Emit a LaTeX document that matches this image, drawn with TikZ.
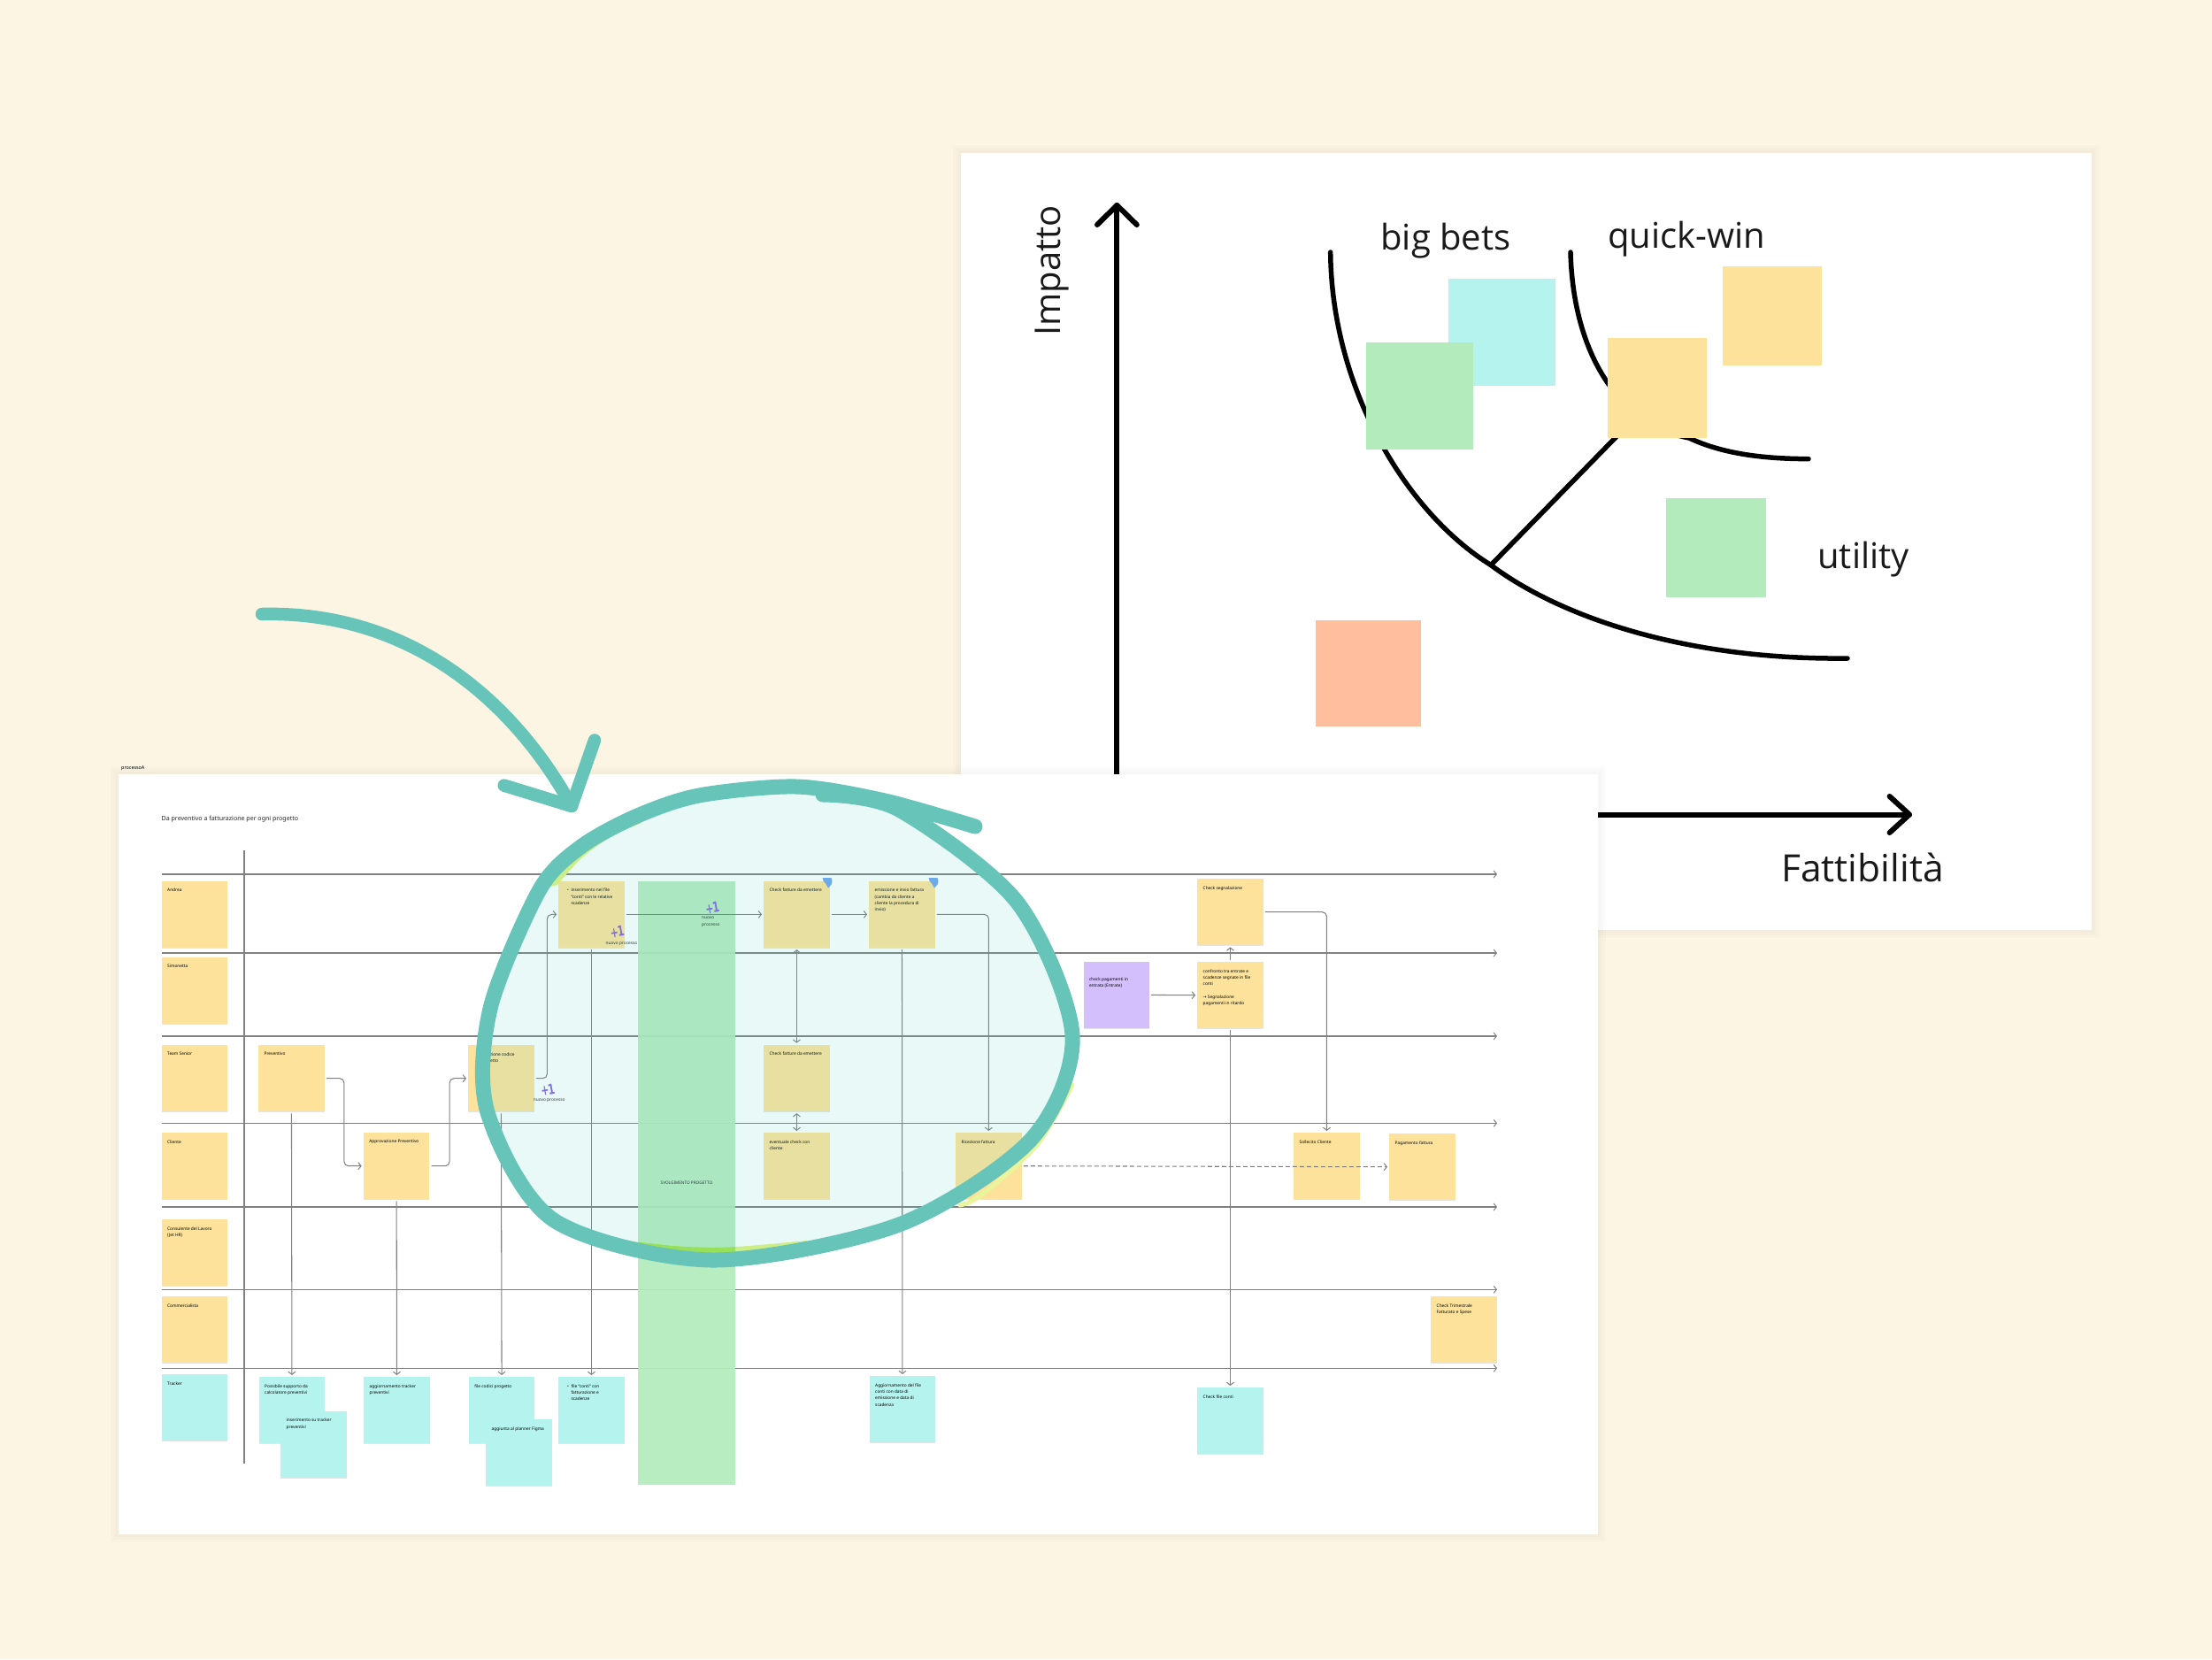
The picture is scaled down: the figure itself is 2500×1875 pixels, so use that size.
\documentclass[tikz,border=0pt]{standalone}
\usepackage{fontspec}
\setmainfont{Noto Sans}
\newfontfamily\chartfont{Open Sans}
\newfontfamily\symfont{DejaVu Sans}
\usetikzlibrary{arrows.meta,shadows}
\definecolor{bgc}{HTML}{FCF5E3}
\definecolor{yel}{HTML}{FDE29B}
\definecolor{cya}{HTML}{B5F4EE}
\definecolor{grn}{HTML}{B3EBBD}
\definecolor{org}{HTML}{FFBE9D}
\definecolor{pur}{HTML}{D2BFFB}
\definecolor{teal1}{HTML}{66C5B8}
\definecolor{tint}{HTML}{50D2CD}
\definecolor{lin}{HTML}{808080}
\definecolor{stic}{HTML}{8A63E0}
\definecolor{flagc}{HTML}{6FA6F0}
\definecolor{limea}{HTML}{DFF27A}
\definecolor{limeb}{HTML}{A3E24A}
\definecolor{limec}{HTML}{E8F59A}
\newcommand\stk[2][6.5pt]{\parbox[c][75pt][t]{74.5pt}{\vspace*{8.2pt}\fontsize{4.8}{7.35}\selectfont\raggedright\leftskip=#1\relax\rightskip=0pt plus 1fil\parindent=0pt #2\par}}
\newcommand\bul{\leavevmode\llap{\textbullet\hspace{2.6pt}}}
\tikzset{
  sticky/.style={anchor=north west,inner sep=0pt,minimum width=74.5pt,minimum height=75pt,text=black,drop shadow={shadow xshift=0pt,shadow yshift=-1.2pt,opacity=0.10,fill=black}},
  ys/.style={sticky,fill=yel},
  cs/.style={sticky,fill=cya},
  ps/.style={sticky,fill=pur},
  chartbox/.style={anchor=north west,inner sep=0pt,outer sep=0pt},
  rowline/.style={draw=lin,line width=1.15pt,-{Straight Barb[length=3.2pt,width=8pt,line width=1pt]}},
  conn/.style={draw=lin,line width=1.05pt,rounded corners=5pt,shorten >=2pt,shorten <=2pt,-{Straight Barb[length=3.2pt,width=8pt,line width=1pt]}},
  biconn/.style={conn,{Straight Barb[length=3.2pt,width=8pt,line width=1pt]}-{Straight Barb[length=3.2pt,width=8pt,line width=1pt]}},
  plain/.style={draw=lin,line width=1.15pt},
  axis/.style={draw=black,line width=6pt,line cap=round,line join=round},
  curve/.style={draw=black,line width=5.5pt,line cap=round},
  chartlabel/.style={font=\chartfont\fontsize{40}{40}\selectfont,text=black!90,inner sep=0pt},
  ring/.style={draw=teal1,line width=17pt,line cap=round,line join=round},
  arrowstroke/.style={draw=teal1,line width=14.5pt,line cap=round,line join=round},
  plusone/.style={font=\symfont\bfseries\fontsize{16}{16}\selectfont,text=stic,inner sep=0pt,rotate=10,xscale=.68},
  small/.style={font=\fontsize{4.8}{7.35}\selectfont,text=black!85,inner sep=0pt,align=left},
  panelshadow/.style={fill=black,opacity=0.012,draw=none}
}
\begin{document}
\begin{tikzpicture}[x=1pt,y=-1pt]
\useasboundingbox (0,0) rectangle (2500,1875);
\fill[bgc] (0,0) rectangle (2500,1875);

% ---------- upper panel ----------
\foreach \d in {3,6,9}{\fill[panelshadow] (1086-\d,172.5-\d) rectangle (2363.6+\d,1050.8+\d);}
\fill[white] (1086,172.5) rectangle (2363.6,1050.8);

\coordinate (yo) at (1262.4,1000);
\coordinate (yt) at (1262.4,232);
\coordinate (xo) at (1500,920.5);
\coordinate (xt) at (2158,920.5);
\draw[axis] (yo) -- (yt);
\draw[axis] (1240,254) -- (yt) -- (1284.8,254);
\draw[axis] (xo) -- (xt);
\draw[axis] (2135.6,900) -- (xt) -- (2135.6,941);

\draw[curve] (1503.7,285) .. controls (1505,440) and (1590,580) .. (1685,638.6) .. controls (1760,695) and (1900,746) .. (2088,744);
\draw[curve] (1775,285) .. controls (1778,400) and (1830,480) .. (1909,495) .. controls (1945,512) and (1990,518.6) .. (2044,518.6);
\coordinate (da) at (1685,638.6);
\coordinate (db) at (1840,480);
\draw[curve] (da) -- (db);

\node[chartbox,fill=cya,minimum width=121pt,minimum height=121pt] (c1) at (1637,315) {};
\node[chartbox,fill=grn,minimum width=121pt,minimum height=121pt] (c2) at (1544,387) {};
\node[chartbox,fill=yel,minimum width=112pt,minimum height=112.5pt] (c3) at (1817,382) {};
\node[chartbox,fill=yel,minimum width=112pt,minimum height=112pt] (c4) at (1946.5,300.5) {};
\node[chartbox,fill=grn,minimum width=113.3pt,minimum height=112pt] (c5) at (1882.7,563) {};
\node[chartbox,fill=org,minimum width=118.7pt,minimum height=120pt] (c6) at (1487,700.6) {};

\node[chartlabel] (lbig) at (1634,272) {big bets};
\node[chartlabel] (lquick) at (1906,270) {quick-win};
\node[chartlabel] (lutil) at (2106,632) {utility};
\node[chartlabel,font=\chartfont\fontsize{42.5}{42}\selectfont] (lfatt) at (2105,980) {Fattibilità};
\node[chartlabel,rotate=90] (limp) at (1189,306) {Impatto};

% ---------- lower panel ----------
\foreach \d in {3,6,9}{\fill[panelshadow] (133.6-\d,875-\d) rectangle (1805.5+\d,1734+\d);}
\fill[white] (133.6,875) rectangle (1805.5,1734);
\node[small,anchor=west,font=\fontsize{5.4}{6}\selectfont,text=black] (tag) at (137,868.5) {processoA};
\node[anchor=west,inner sep=0pt,font=\fontsize{7.05}{8}\selectfont,text=black!85] (title) at (182.5,926) {Da preventivo a fatturazione per ogni progetto};

% rows
\foreach \n/\y in {1/988,2/1077,3/1171,4/1269.3,5/1364,6/1457.3,7/1546.3}{
  \coordinate (ra\n) at (182.5,\y);
  \coordinate (rb\n) at (1692,\y);
  \draw[rowline] (ra\n) -- (rb\n);
}
\coordinate (va) at (276,960.7);
\coordinate (vb) at (276,1654);
\draw[plain] (va) -- (vb);

% band
\node[chartbox,fill=grn,opacity=.93,text opacity=1,minimum width=109.6pt,minimum height=682pt] (band) at (721.4,996) {};
\node[inner sep=0pt,font=\fontsize{4.7}{6}\selectfont,text=black!85] (bandtxt) at (776,1337) {SVOLGIMENTO PROGETTO};

% left column
\node[ys] (andrea) at (182.5,995.7) {\stk{Andrea}};
\node[ys] (simo) at (182.5,1082) {\stk{Simonetta}};
\node[ys] (team) at (182.5,1181) {\stk{Team Senior}};
\node[ys] (cliente) at (182.5,1280) {\stk{Cliente}};
\node[ys] (cons) at (182.5,1378) {\stk{Consulente del Lavoro\\(Jet HR)}};
\node[ys] (comm) at (182.5,1465) {\stk{Commercialista}};
\node[cs] (track) at (182.5,1553) {\stk{Tracker}};

% process
\node[ys] (prev) at (292,1181) {\stk{Preventivo}};
\node[ys] (appr) at (410.7,1280) {\stk{Approvazione Preventivo}};
\node[ys] (cod) at (529,1181) {\stk[14.3pt]{\bul Creazione codice\\progetto}};
\node[ys] (file) at (631,995.7) {\stk[14.3pt]{\bul inserimento nel file\\``conti'' con le relative\\scadenze}};
\node[ys] (chk1) at (863,995.7) {\stk{Check fatture da emettere}};
\node[ys] (emis) at (982,995.7) {\stk{emissione e invio fattura\\(cambia da cliente a\\cliente la procedura di\\invio)}};
\node[ys] (chk2) at (863,1180.7) {\stk{Check fatture da emettere}};
\node[ys] (evt) at (863,1280) {\stk{eventuale check con\\cliente}};
\node[ys] (ricez) at (1080,1280) {\stk{Ricezione fattura}};
\node[ps] (purple) at (1224.3,1086.7) {\stk{\rule{0pt}{6pt}\\check pagamenti in\\entrata (Entrate)}};
\node[ys] (conf) at (1353,1087) {\stk{confronto tra entrate e\\scadenze segnate in file\\conti\\[7.35pt]{\symfont →} Segnalazione\\pagamenti in ritardo}};
\node[ys] (segn) at (1353,993) {\stk{Check segnalazione}};
\node[ys] (soll) at (1462,1280) {\stk{Sollecito Cliente}};
\node[ys] (pag) at (1570,1281) {\stk{Pagamento fattura}};
\node[ys] (trim) at (1617,1465) {\stk{Check Trimestrale\\Fatturato e Spese}};
\node[cs] (cfile) at (1353,1568) {\stk{Check file conti}};

% tracker row
\node[cs] (poss) at (292.5,1556) {\stk{Possibile supporto da\\calcolatore preventivi}};
\node[cs] (ins) at (317,1594.7) {\stk{inserimento su tracker\\preventivi}};
\node[cs] (aggt) at (411,1556) {\stk{aggiornamento tracker\\preventivi}};
\node[cs] (fcod) at (529.6,1556) {\stk{file codici progetto}};
\node[cs] (plan) at (549,1604) {\stk{aggiunta al planner Figma}};
\node[cs] (fcon) at (631,1556) {\stk[14.3pt]{\bul file ``conti'' con\\fatturazione e\\scadenze}};
\node[cs] (aggf) at (982.5,1555) {\stk{Aggiornamento del file\\conti con data di\\emissione e data di\\scadenza}};

% connectors
\draw[conn] (prev.east) -- ++(22,0) |- (appr.west);
\draw[conn] (appr.east) -- ++(22.5,0) |- (cod.west);
\draw[conn] (cod.east) -- ++(14.5,0) |- (file.west);
\draw[conn] (file.east) -- (chk1.west);
\draw[conn] (chk1.east) -- (emis.west);
\draw[conn] (emis.east) -| (ricez.north);
\draw[biconn] (chk1.south) -- (chk2.north);
\draw[biconn] (chk2.south) -- (evt.north);
\draw[conn] (purple.east) -- (conf.west);
\draw[conn] (conf.north) -- (segn.south);
\draw[conn] (segn.east) -| (soll.north);
\draw[conn] (prev.south) -- (poss.north);
\draw[conn] (appr.south) -- (aggt.north);
\draw[conn] (cod.south) -- (fcod.north);
\draw[conn] (file.south) -- (fcon.north);
\draw[conn] (emis.south) -- (aggf.north);
\draw[conn] (conf.south) -- (cfile.north);
\draw[conn,dash pattern=on 5pt off 3pt] (ricez.east) -- (pag.west);

% stickers
\node[plusone] (p1) at (619,1231.7) {+\kern-1.5pt 1};
\node[small] (t1) at (620.7,1243.7) {nuovo processo};
\node[plusone] (p2) at (697.5,1053) {+\kern-1.5pt 1};
\node[small] (t2) at (702.5,1067) {nuovo processo};
\node[plusone] (p3) at (805,1026) {+\kern-1.5pt 1};
\node[small,anchor=north west] (t3) at (793,1036) {nuovo\\processo};
\fill[flagc] (929.5,992) -- (939.5,992) to[bend left=20] (940,999) -- (936,1003.5) -- (933.5,999) to[bend left=20] (929.5,992) -- cycle;
\fill[flagc] (1049.5,992) -- (1059.5,992) to[bend left=20] (1060,999) -- (1056,1003.5) -- (1053.5,999) to[bend left=20] (1049.5,992) -- cycle;

% highlighter crescents (their outer side stays under the ring)
\fill[limea] plot[smooth] coordinates {(630,1000) (657,970) (690,946) (725,930)} -- (718,925) -- (655,958) -- (612,1005) -- cycle;
\fill[limea] plot[smooth] coordinates {(695,1400) (725,1404) (776,1409) (832,1409) (912,1402)} -- (905,1416) -- (804,1424) -- (706,1413) -- cycle;
\begin{scope}
\clip (721.4,1380) rectangle (831,1440);
\fill[limeb] plot[smooth] coordinates {(695,1400) (725,1404) (776,1409) (832,1409) (912,1402)} -- (905,1416) -- (804,1424) -- (706,1413) -- cycle;
\end{scope}
\draw[line width=5pt,draw=limec,line cap=round] plot[smooth] coordinates {(1085,1362) (1110,1350) (1172,1294) (1212,1226)};

% tint + ring
\fill[tint,opacity=.12] plot[smooth cycle] coordinates {(1016,915) (900,889) (790,899) (718,923) (655,958) (609,1007) (554,1140) (551,1257) (626,1379) (804,1424) (1016,1384) (1165,1288) (1212,1170) (1150,1020)};
\draw[ring] plot[smooth] coordinates {(1102,934) (1000,905) (900,889) (790,899) (718,923) (655,958) (609,1007) (554,1140) (551,1257) (626,1379) (804,1424) (1016,1384) (1165,1288) (1212,1170) (1150,1020) (1016,915) (930,898)};
% big arrow
\coordinate (atip) at (646,911);
\draw[arrowstroke] (296,694) .. controls (470,690) and (585,800) .. (atip);
\draw[arrowstroke] (569.7,887.6) -- (atip) -- (672,836.5);
\end{tikzpicture}
\end{document}
